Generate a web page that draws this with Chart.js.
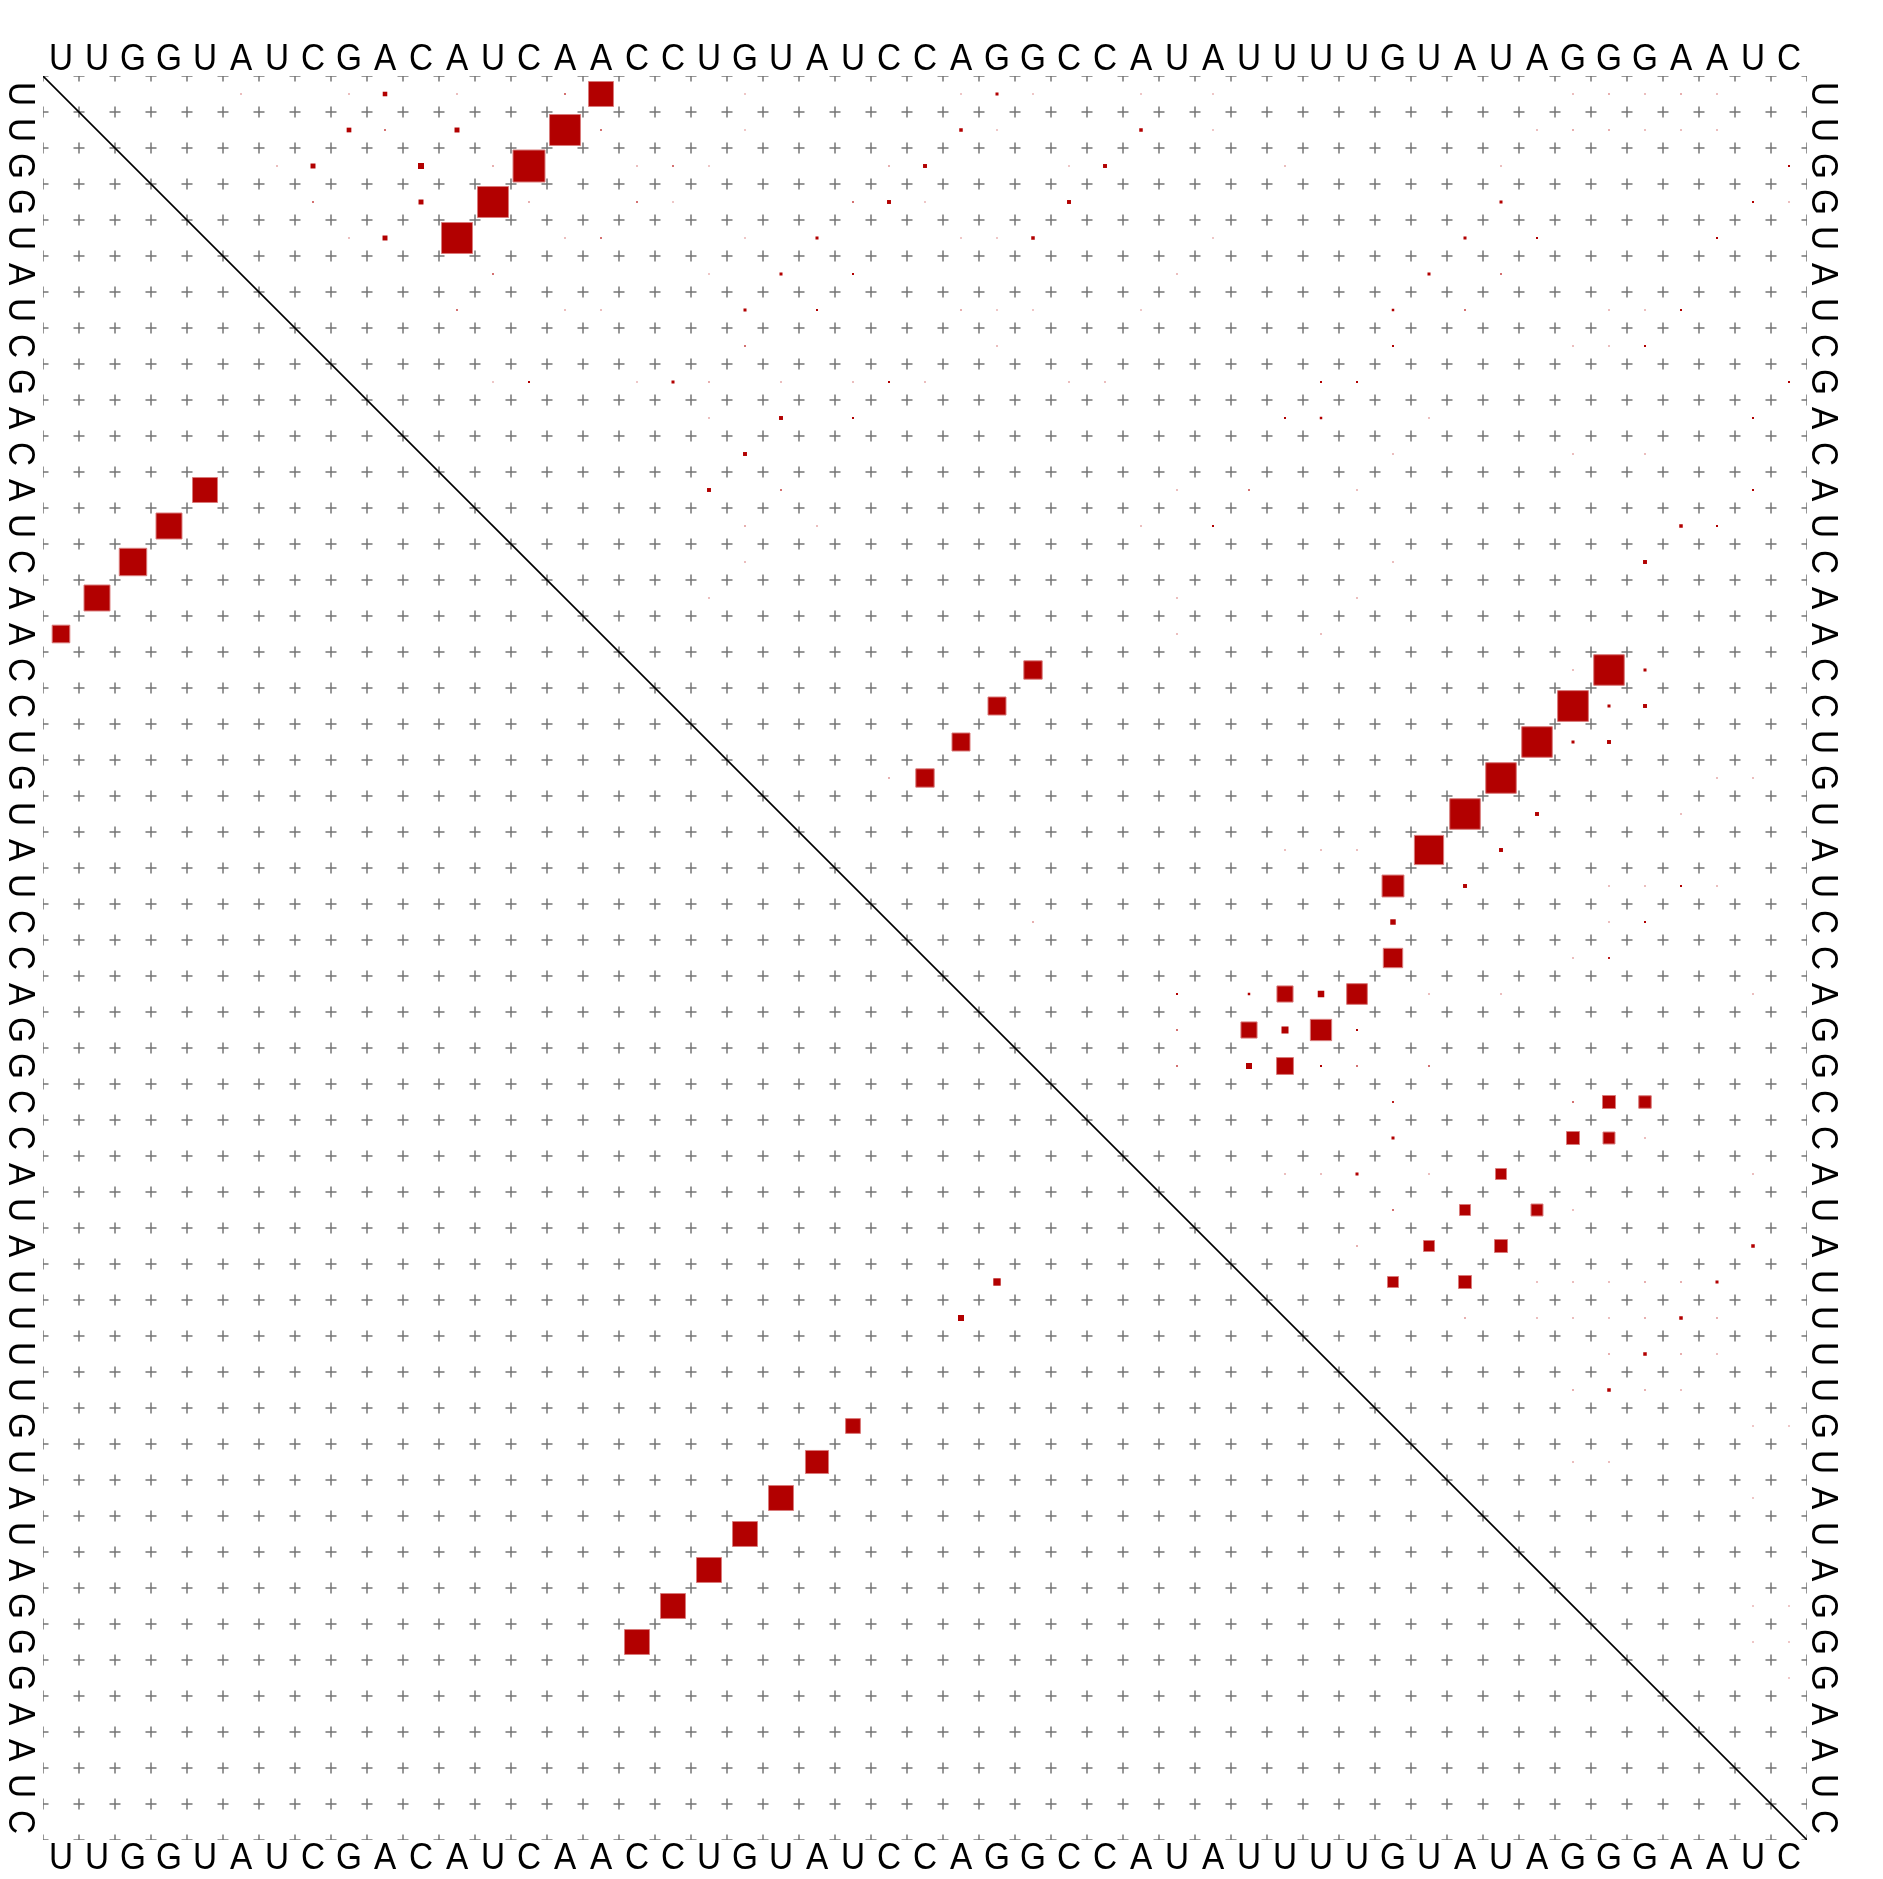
<!DOCTYPE html>
<html>
<head>
<meta charset="utf-8">
<script src="https://cdn.jsdelivr.net/npm/chart.js@4/dist/chart.umd.min.js"></script>
<style>
html,body{margin:0;padding:0;background:#fff;}
#wrap{width:1883px;height:1879px;}
</style>
</head>
<body>
<div id="wrap"><canvas id="dp" width="1883" height="1879"></canvas></div>
<script>
const sequence = 'UUGGUAUCGACAUCAACCUGUAUCCAGGCCAUAUUUUGUAUAGGGAAUC'.split('');

// upper triangle: base pair probabilities, one entry per row i (1-based), column j > i
const upperCols = [
  [6,9,10,12,15,16,20,26,27,28,31,33,43,44,45,46,47],
  [9,10,12,15,16,20,26,27,31,33,42,43,44,45,46,47],
  [7,8,11,13,14,17,18,19,24,25,29,30,35,41,49],
  [8,11,13,14,17,18,23,24,25,29,41,48,49],
  [9,10,12,15,16,20,22,26,27,28,33,40,42,47],
  [13,19,21,23,32,39,41],
  [12,15,16,20,22,26,27,28,31,38,40,44,45,46],
  [20,27,38,43,44,45],
  [13,14,17,18,19,21,23,24,25,29,30,36,37,49],
  [19,21,23,35,36,39,48],
  [20,38,43,45],
  [19,21,32,34,37,48],
  [20,22,31,33,46,47],
  [20,38,45],
  [19,32,37],
  [32,36],
  [28,43,44,45],
  [27,43,44,45],
  [26,42,43,44],
  [24,25,41,47,48],
  [40,42,46],
  [35,36,37,39,41],
  [38,40,44,45,46,47],
  [28,38,44,45],
  [38,43,44],
  [32,34,35,36,37,39,41,48],
  [32,34,35,36,37],
  [32,34,35,36,37,39],
  [38,43,44,45],
  [38,43,44,45],
  [35,36,37,39,41,48],
  [38,40,42,43],
  [37,39,41,48],
  [38,40,42,43,44,45,46,47],
  [40,42,43,44,45,46,47],
  [44,45,46,47],
  [43,44,45,46],
  [48,49],
  [43,44],
  [48],
  [],
  [],
  [48,49],
  [48,49],
  [49],
  [],[],[],[]
];
const upperProbs = [
  [.0008,.0008,.016,.0008,.0017,.48,.0006,.0006,.007,.0006,.0006,.0006,.0008,.0012,.0008,.0012,.0008],
  [.017,.0017,.019,.74,.0017,.0006,.0095,.0006,.0095,.0006,.0008,.0012,.0012,.0008,.0008,.0008],
  [.0008,.019,.028,.0012,.79,.0008,.0017,.0006,.0012,.012,.0006,.012,.0008,.0008,.0031],
  [.0017,.019,.74,.0012,.0017,.0006,.0017,.012,.0006,.012,.007,.0031,.0008],
  [.0008,.019,.74,.0008,.0017,.0006,.007,.0006,.0006,.0095,.0006,.007,.0031,.0031],
  [.0017,.0006,.007,.0031,.0008,.007,.0017],
  [.0017,.0008,.0008,.007,.0031,.0012,.0006,.0006,.0006,.0048,.0017,.0008,.0008,.0031],
  [.0017,.0008,.0031,.0008,.0008,.0031],
  [.0006,.0031,.0006,.007,.0012,.0008,.0008,.0031,.0008,.0008,.0008,.0031,.0031,.0031],
  [.0008,.012,.0031,.0031,.0048,.0008,.0031],
  [.012,.0008,.0008,.0008],
  [.012,.0017,.0008,.0017,.0008,.0031],
  [.0012,.0008,.0008,.0031,.0095,.0031],
  [.0008,.0008,.012],
  [.0008,.0008,.0008],
  [.0008,.0008],
  [.26,.0008,.72,.007],
  [.25,.73,.007,.012],
  [.25,.72,.007,.012],
  [.0012,.26,.72,.0008,.0008],
  [.72,.012,.0008],
  [.0008,.0008,.0008,.66,.012],
  [.37,.012,.0008,.0008,.0031,.0008],
  [.0012,.023,.0008,.0031],
  [.29,.0008,.0024],
  [.0031,.0048,.2,.033,.33,.0008,.0008,.0008],
  [.0017,.2,.038,.35,.0031],
  [.0017,.028,.22,.0031,.0017,.0017],
  [.0024,.0017,.13,.12],
  [.007,.13,.11,.0008],
  [.0008,.0008,.007,.0008,.093,.0008],
  [.0017,.093,.11,.0008],
  [.0012,.093,.13,.0095],
  [.093,.13,.0008,.0008,.0008,.0012,.0012,.007],
  [.0012,.0008,.0008,.0008,.0012,.0095,.0012],
  [.0012,.0095,.0012,.0008],
  [.0012,.0095,.0012,.0008],
  [.0006,.0006],
  [.0008,.0008],
  [.0006],
  [],
  [],
  [.0006,.0006],
  [.0006,.0006],
  [.0006],
  [],[],[],[]
];

// lower triangle: structure pairs (row i > column j)
const lowerRows  = [12,13,14,15,16,34,35,38,39,40,41,42,43,44];
const lowerCols  = [5,4,3,2,1,27,26,23,22,21,20,19,18,17];
const lowerProbs = [.48,.52,.58,.52,.24,.042,.028,.17,.41,.48,.48,.48,.48,.48];

const N = sequence.length;

// ========== Build datasets ==========
const upperPoints = [];
upperCols.forEach((cols, r) => {
  cols.forEach((j, k) => upperPoints.push({x: j - 0.5, y: r + 0.5, p: upperProbs[r][k]}));
});
const lowerPoints = lowerRows.map((i, k) => ({x: lowerCols[k] - 0.5, y: i - 0.5, p: lowerProbs[k]}));

const gridPoints = [];
for(let a = 0; a <= N; a++){
  for(let b = 0; b <= N; b++) gridPoints.push({x: a, y: b});
}

function boxSide(ctx){
  const sx = ctx.chart.scales.x;
  const cell = sx.getPixelForValue(1) - sx.getPixelForValue(0);
  const p = ctx.raw ? ctx.raw.p : 0;
  return cell * Math.sqrt(p);
}
const boxRadius = ctx => boxSide(ctx) / Math.SQRT2;
const boxBorder = ctx => boxSide(ctx) > 8 ? 1 : 0;

function glyph(ctx, s, x, y, rot){
  ctx.save();
  ctx.translate(x, y);
  ctx.rotate(rot);
  ctx.scale(0.9, 1);
  ctx.fillText(s, 0, 0);
  ctx.restore();
}

// ========== Sequence along all 4 sides ==========
const seqLabels = {
  id: 'seqLabels',
  afterDraw(chart){
    const {ctx, chartArea: area} = chart;
    const x = chart.scales.x, y = chart.scales.y;
    ctx.save();
    ctx.fillStyle = '#000';
    ctx.font = '37px "Liberation Sans", Arial, sans-serif';
    ctx.textAlign = 'center';
    ctx.textBaseline = 'alphabetic';
    sequence.forEach((s, k) => {
      const px = x.getPixelForValue(k + 0.5);
      const py = y.getPixelForValue(k + 0.5);
      glyph(ctx, s, px, area.top - 6, 0);
      glyph(ctx, s, px, area.bottom + 29, 0);
      glyph(ctx, s, area.left - 34, py, Math.PI / 2);
      glyph(ctx, s, area.right + 5, py, Math.PI / 2);
    });
    ctx.restore();
  }
};

new Chart(document.getElementById('dp'), {
  type: 'scatter',
  data: {
    datasets: [
      {
        label: 'upper',
        data: upperPoints,
        order: 0,
        pointStyle: 'rect',
        backgroundColor: '#b20000',
        borderColor: '#d97a7a',
        pointRadius: boxRadius,
        pointBorderWidth: boxBorder,
        pointHoverRadius: boxRadius
      },
      {
        label: 'lower',
        data: lowerPoints,
        order: 0,
        pointStyle: 'rect',
        backgroundColor: '#b20000',
        borderColor: '#d97a7a',
        pointRadius: boxRadius,
        pointBorderWidth: boxBorder,
        pointHoverRadius: boxRadius
      },
      {
        label: 'diagonal',
        data: [{x: 0, y: 0}, {x: N, y: N}],
        order: 1,
        showLine: true,
        borderColor: '#000',
        borderWidth: 1.6,
        pointRadius: 0
      },
      {
        label: 'grid',
        data: gridPoints,
        order: 2,
        clip: 0,
        pointStyle: 'cross',
        pointRadius: 5.5,
        pointBorderWidth: 1.5,
        borderColor: 'rgba(70,70,70,0.75)',
        backgroundColor: 'rgba(70,70,70,0.75)'
      }
    ]
  },
  options: {
    responsive: false,
    devicePixelRatio: 1,
    animation: false,
    events: [],
    layout: {padding: {left: 43, top: 76, right: 76, bottom: 39}},
    scales: {
      x: {type: 'linear', min: 0, max: N, display: false},
      y: {type: 'linear', min: 0, max: N, reverse: true, display: false}
    },
    plugins: {legend: {display: false}, tooltip: {enabled: false}}
  },
  plugins: [seqLabels]
});
</script>
</body>
</html>
